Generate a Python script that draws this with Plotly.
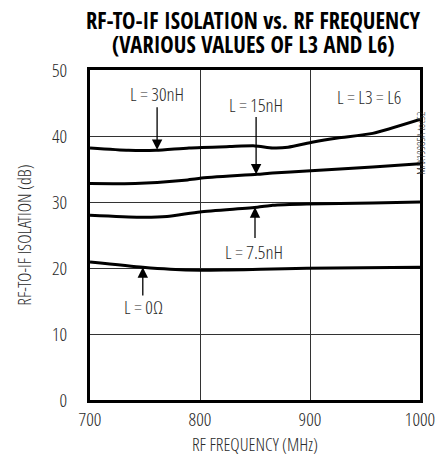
import plotly.graph_objects as go

# RF frequency (MHz) and isolation (dB) for each inductor value
freq_30nH = [700, 735, 760, 790, 827, 850, 866, 880, 903, 925, 957, 1000]
iso_30nH = [38.2, 37.85, 37.85, 38.2, 38.4, 38.5, 38.2, 38.3, 39.1, 39.7, 40.4, 42.5]

freq_15nH = [700, 741, 786, 800, 852, 866, 897, 957, 1000]
iso_15nH = [32.8, 32.8, 33.3, 33.6, 34.2, 34.4, 34.7, 35.3, 35.8]

freq_7p5nH = [700, 745, 770, 800, 852, 866, 897, 957, 1000]
iso_7p5nH = [28.0, 27.7, 27.8, 28.5, 29.2, 29.5, 29.7, 29.85, 30.0]

freq_0ohm = [700, 748, 773, 800, 825, 855, 897, 1000]
iso_0ohm = [20.9, 20.1, 19.8, 19.65, 19.7, 19.8, 19.95, 20.1]

x_ticks = [700, 800, 900, 1000]
y_ticks = [0, 10, 20, 30, 40, 50]

FONT = "Open Sans Condensed Light, DejaVu Sans Condensed, sans-serif"
TITLE_FONT = "Open Sans Condensed, DejaVu Sans Condensed, sans-serif"
TXT = "#2a2a2a"

fig = go.Figure()
for fx, fy in [(freq_30nH, iso_30nH), (freq_15nH, iso_15nH),
               (freq_7p5nH, iso_7p5nH), (freq_0ohm, iso_0ohm)]:
    fig.add_trace(go.Scatter(x=fx, y=fy, mode="lines",
                             line=dict(color="black", width=3, shape="spline", smoothing=0.6),
                             showlegend=False, hoverinfo="skip"))

# curve labels with pointer arrows: (text, arrow x, arrow tip y, tail y, text x, text y)
labels = [
    ("L = 30nH", 761, 37.9, 44.6, 761, 46.3),
    ("L = 15nH", 851, 34.2, 43.1, 851, 44.7),
    ("L = 7.5nH", 850, 29.2, 24.3, 849, 22.5),
    ("L = 0Ω", 748, 20.1, 15.6, 749, 14.1),
]
for text, ax_, tip, tail, tx, ty in labels:
    fig.add_annotation(x=ax_, y=tip, ax=ax_, ay=tail, xref="x", yref="y",
                       axref="x", ayref="y", text="", showarrow=True,
                       arrowhead=2, arrowsize=1.6, arrowwidth=1.3, arrowcolor="black")
    fig.add_annotation(x=tx, y=ty, xref="x", yref="y", text=text, showarrow=False,
                       font=dict(family=FONT, size=19, color=TXT))

fig.add_annotation(x=953.5, y=45.9, xref="x", yref="y", text="L = L3 = L6",
                   showarrow=False, font=dict(family=FONT, size=19, color=TXT))

fig.add_annotation(x=1.03, y=0.879, xref="paper", yref="paper",
                   text="MAX19985A toc52", textangle=-90, showarrow=False,
                   font=dict(family=FONT, size=11, color=TXT))

# two-line heading, set tighter than the default title line spacing
for line, ypos in [("RF-TO-IF ISOLATION vs. RF FREQUENCY", 1.15),
                   ("(VARIOUS VALUES OF L3 AND L6)", 1.078)]:
    fig.add_annotation(x=(253 - 90) / 330, y=ypos, xref="paper", yref="paper",
                       xanchor="center", yanchor="middle", text=line, showarrow=False,
                       font=dict(family=TITLE_FONT, size=22.5, color="black", weight=700))

fig.update_layout(
    width=435, height=459,
    margin=dict(l=90, r=15, t=70, b=59),
    paper_bgcolor="white", plot_bgcolor="white",
    font=dict(family=FONT, size=18, color=TXT),
)
fig.update_xaxes(range=[700, 1000], tickvals=x_ticks, ticks="", showgrid=True,
                 gridcolor="#333", gridwidth=1, showline=True, linecolor="black",
                 linewidth=3, mirror=True, zeroline=False, ticklabeloverflow="allow",
                 automargin=False,
                 title=dict(text="RF FREQUENCY (MHz)", font=dict(size=18), standoff=6),
                 tickfont=dict(size=19))
fig.update_yaxes(range=[0, 50], tickvals=y_ticks, ticks="", showgrid=True,
                 gridcolor="#333", gridwidth=1, showline=True, linecolor="black",
                 linewidth=3, mirror=True, zeroline=False, ticklabelstandoff=16,
                 automargin=False,
                 title=dict(text="RF-TO-IF ISOLATION (dB)", font=dict(size=18), standoff=16),
                 tickfont=dict(size=19))

fig.write_html("out.html")
